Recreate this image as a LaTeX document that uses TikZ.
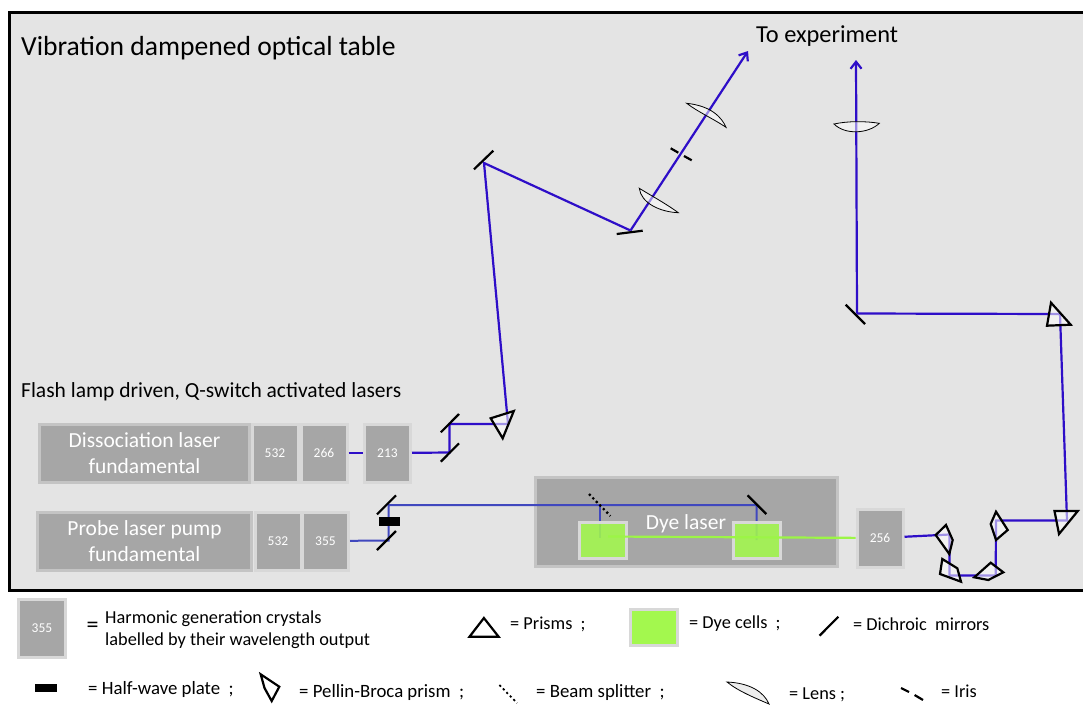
\documentclass[tikz,border=0pt]{standalone}
\usepackage{fontspec}
\setmainfont{Carlito}
\usepackage{tikz}
\usetikzlibrary{
    positioning,
    arrows.meta,
    calc
}
\definecolor{tableGrey}{RGB}{228, 228, 228}
\definecolor{boxGrey}{RGB}{166, 166, 166}
\definecolor{rimGrey}{RGB}{196, 196, 196}
\definecolor{rimLight}{RGB}{216, 216, 216}
\definecolor{beamBlue}{RGB}{46, 14, 200}
\definecolor{pumpBlue}{RGB}{64, 72, 190}
\definecolor{dyeGreen}{RGB}{163, 248, 78}
\definecolor{rayGreen}{RGB}{156, 245, 70}
\tikzset{
    laserbox/.style={draw=rimGrey, line width=3pt, fill=boxGrey, text=white, align=center, font=\fontsize{21.5}{26}\selectfont},
    crystal/.style={draw=rimLight, line width=3pt, fill=boxGrey, text=white, font=\fontsize{13.5}{14}\selectfont, minimum width=46pt, minimum height=58pt},
    dyecell/.style={draw=rimLight, line width=3pt, fill=dyeGreen, fill opacity=0.88, minimum width=47pt, minimum height=36pt},
    beam/.style={draw=beamBlue, line width=2.2pt},
    pump/.style={draw=pumpBlue, line width=2pt},
    ray/.style={draw=rayGreen, line width=2.2pt},
    mirror/.style={line width=2.2pt},
    prism/.style={draw=black, line width=2.2pt, fill=white, fill opacity=0.55, draw opacity=1},
    lens/.style={draw=black, line width=0.8pt, fill=white, fill opacity=0.5, draw opacity=1},
    splitter/.style={line width=2.2pt, dash pattern=on 2.2pt off 2.8pt},
    legendtext/.style={font=\fontsize{18.3}{22}\selectfont, anchor=west, align=left, inner sep=0pt},
    bigtext/.style={font=\fontsize{27.6}{30}\selectfont, anchor=west, inner sep=0pt},
    midtext/.style={font=\fontsize{21.5}{24}\selectfont, anchor=west, inner sep=0pt}
}
\begin{document}
\begin{tikzpicture}[x=1pt, y=-1pt]
    \useasboundingbox (0,0) rectangle (1083,704);
    % table
    \draw[fill=tableGrey, line width=3pt] (9,12) rectangle (1095,590);
    \node[bigtext] (title) at (21,48) {Vibration dampened optical table};
    \node[midtext] (flash) at (21,392) {Flash lamp driven, Q-switch activated lasers};
    \node[midtext, font=\fontsize{24.4}{28}\selectfont] (exp) at (756,36) {To experiment};

    % lasers and crystals
    \node[laserbox, minimum width=210pt, minimum height=58pt] (diss) at (144.5,453) {Dissociation laser\\fundamental};
    \node[crystal] (d532) at (275,453) {532};
    \node[crystal] (d266) at (324,453) {266};
    \node[crystal] (d213) at (387.5,453) {213};
    \node[laserbox, minimum width=214pt, minimum height=58pt] (probe) at (144.5,541) {Probe laser pump\\fundamental};
    \node[crystal] (p532) at (278,541) {532};
    \node[crystal] (p355) at (325.5,541) {355};
    \node[laserbox, minimum width=302pt, minimum height=89pt, text height=14pt, text depth=0pt] (dye) at (686,522) {Dye laser};
    \node[crystal, minimum height=58pt] (c256) at (880,538) {256};

    % beam corners
    \coordinate (m1) at (449.5,452.5);
    \coordinate (m2) at (449.5,424);
    \coordinate (pr1) at (508,424);
    \coordinate (m3) at (484,163);
    \coordinate (m4) at (630.5,230.5);
    \coordinate (out1) at (748,51);
    \coordinate (m5) at (388.5,540.5);
    \coordinate (m6) at (388.5,505);
    \coordinate (bs) at (600,505);
    \coordinate (m7) at (756.5,505);
    \coordinate (c1) at (600,538);
    \coordinate (c2) at (756.5,540);
    \coordinate (gr) at (608,536.5);
    \coordinate (pb1) at (949.5,534.5);
    \coordinate (pb2) at (949.5,575.5);
    \coordinate (pb3) at (995.7,575.5);
    \coordinate (pb4) at (996,520.5);
    \coordinate (pr2) at (1067,520.5);
    \coordinate (pr3) at (1060,314);
    \coordinate (m8) at (857,313.5);
    \coordinate (out2) at (856,60);

    % beams
    \draw[beam] (d266) -- (d213);
    \draw[beam] (d213) -- (m1) -- (m2) -- (pr1) -- (m3) -- (m4);
    \draw[beam, -{Straight Barb[length=7pt, width=11pt]}] (m4) -- (out1);
    \draw[pump] (p355) -- (m5) -- (m6) -- (bs) -- (m7) -- (c2);
    \draw[pump] (bs) -- (c1);
    \node[dyecell] (cell1) at (602.5,540.5) {};
    \node[dyecell] (cell2) at (757,540.5) {};
    \draw[ray] (gr) -- (c256);
    \draw[beam] (c256) -- (pb1) -- (pb2) -- (pb3) -- (pb4) -- (pr2) -- (pr3) -- (m8);
    \draw[beam, -{Straight Barb[length=7pt, width=11pt]}] (m8) -- (out2);

    % mirrors
    \draw[mirror] (440.8,461.7) -- (459,443.3);
    \draw[mirror] (440.8,432.3) -- (459,414);
    \draw[mirror] (474,169.3) -- (493.3,150.7);
    \draw[mirror] (616.7,234) -- (642.7,230.7);
    \draw[mirror] (377,550) -- (396,531);
    \draw[mirror] (377,514.3) -- (396,495.3);
    \draw[mirror] (747.6,495.3) -- (766.3,514);
    \draw[mirror] (845.7,304.7) -- (865,324);
    \draw[splitter] (589,494) -- (610.4,516);
    \fill (379,517.3) rectangle (399.5,526);

    % iris
    \draw[mirror] (670.7,148.3) -- (678.3,152.7);
    \draw[mirror] (684,156) -- (691.7,160.3);

    % lenses
    \draw[lens] (639.3,188.3) .. controls (641,203) and (660,212) .. (678.3,212.7) .. controls (665,203) and (650,195) .. cycle;
    \draw[lens] (686.7,103.3) .. controls (712,106) and (722,118) .. (726,127.3) .. controls (712,118) and (698,112) .. cycle;
    \draw[lens] (834,124) .. controls (845,135) and (868,134) .. (879.3,123.3) .. controls (865,121) and (848,121) .. cycle;

    % prisms
    \draw[prism] (490.7,418.3) -- (513.8,411) -- (502.7,438.3) -- cycle;
    \draw[prism] (1051,302.7) -- (1070.7,324.7) -- (1047,325.7) -- cycle;
    \draw[prism] (1054.5,511) -- (1077.8,511) -- (1059,534) -- cycle;
    \draw[prism] (935.7,535) -- (946,525) -- (952.7,540) -- (949.3,554) -- cycle;
    \draw[prism] (942.3,559) -- (940,574) -- (961,581.7) -- (957.3,568.3) -- cycle;
    \draw[prism] (974.3,577.3) -- (990.7,562.7) -- (1003.3,572.3) -- (988.3,580) -- cycle;
    \draw[prism] (996,511.7) -- (990.7,524) -- (996,540) -- (1007.7,530) -- cycle;

    % legend, first row
    \node[crystal, minimum width=47pt, minimum height=58pt] (key355) at (42,628) {355};
    \node[legendtext, font=\fontsize{24}{24}\selectfont] (eq1) at (86.5,627) {=};
    \node[legendtext] (keyharm) at (105,630) {Harmonic generation crystals\\labelled by their wavelength output};
    \draw[prism, fill=none] (483.9,618) -- (498.6,636.7) -- (469.5,636.7) -- cycle;
    \node[legendtext] (keyprism) at (510,624) {= Prisms\ \ ;};
    \node[dyecell, fill opacity=1, minimum width=47pt, minimum height=36pt] (keycell) at (654,627) {};
    \node[legendtext] (keydye) at (689,624) {= Dye cells\ \ ;};
    \draw[mirror] (819.5,635.7) -- (838.4,616.7);
    \node[legendtext] (keymirror) at (853,624) {= Dichroic\ \ mirrors};

    % legend, second row
    \fill (35,684) rectangle (57,692);
    \node[legendtext, font=\fontsize{18.8}{22}\selectfont] (keyplate) at (88,689) {= Half-wave plate\ \ ;};
    \draw[prism, fill=none] (260.7,674.3) -- (279.3,686.7) -- (271.7,701) -- (264.5,688) -- cycle;
    \node[legendtext, font=\fontsize{18.8}{22}\selectfont] (keypb) at (299,692) {= Pellin-Broca prism\ \ ;};
    \draw[splitter, line width=1.8pt] (499.4,685) -- (517,703);
    \node[legendtext, font=\fontsize{18.8}{22}\selectfont] (keysplit) at (536,692) {= Beam splitter\ \ ;};
    \draw[lens, fill=black!7, fill opacity=1] (727,682) .. controls (750,683) and (764,692) .. (769,704) .. controls (755,698) and (738,691) .. cycle;
    \node[legendtext] (keylens) at (789,695) {= Lens\ ;};
    \draw[mirror] (901,688) -- (909,692);
    \draw[mirror] (914.6,695) -- (923,700);
    \node[legendtext] (keyiris) at (941,691) {= Iris};
\end{tikzpicture}
\end{document}
